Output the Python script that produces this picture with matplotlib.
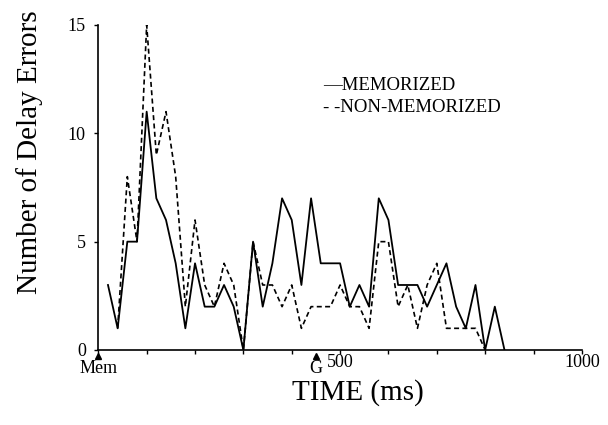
import numpy as np
import matplotlib
matplotlib.use('Agg')
import matplotlib.pyplot as plt

plt.rcParams['font.family'] = ['Liberation Serif', 'DejaVu Sans']

# memorized (solid) and non-memorized (dashed) delay errors, 20 ms bins
mem_t = [20, 40, 60, 80, 100, 120, 140, 160, 180, 200, 220, 240, 260, 280, 300,
         320, 340, 360, 380, 400, 420, 440, 460, 480, 500, 520, 540, 560, 580, 600,
         620, 640, 660, 680, 700, 720, 740, 760, 780, 800, 820, 840]
mem_n = [3, 1, 5, 5, 11, 7, 6, 4, 1, 4, 2, 2, 3, 2, 0,
         5, 2, 4, 7, 6, 3, 7, 4, 4, 4, 2, 3, 2, 7, 6,
         3, 3, 3, 2, 3, 4, 2, 1, 3, 0, 2, 0]

non_t = [40, 60, 80, 100, 120, 140, 160, 180, 200, 220, 240, 260, 280, 300,
         320, 340, 360, 380, 400, 420, 440, 460, 480, 500, 520, 540, 560, 580, 600,
         620, 640, 660, 680, 700, 720, 740, 760, 780, 800]
non_n = [1, 8, 5, 15, 9, 11, 8, 2, 6, 3, 2, 4, 3, 0,
         5, 3, 3, 2, 3, 1, 2, 2, 2, 3, 2, 2, 1, 5, 5,
         2, 3, 1, 3, 4, 1, 1, 1, 1, 0]

yticks = [0, 5, 10, 15]
xticks_major = [500, 1000]
event_t = [0, 450]
event_lab = ['Mem', 'G']

fig = plt.figure(figsize=(6.08, 4.25), dpi=100)
ax = fig.add_axes([0.1617, 0.1765, 0.7953, 0.7647])

ax.plot(mem_t, mem_n, color='black', lw=1.3)
ax.plot(non_t, non_n, color='black', lw=1.2, linestyle=(0, (3, 2)))

ax.set_xlim(0, 1000)
ax.set_ylim(0, 15)
ax.spines['top'].set_visible(False)
ax.spines['right'].set_visible(False)
ax.spines['left'].set_linewidth(1.2)
ax.spines['bottom'].set_linewidth(1.2)

ax.set_yticks(yticks)
ax.set_yticklabels([str(v) for v in yticks], fontsize=13)
ax.set_xticks(xticks_major)
ax.set_xticklabels([str(v) for v in xticks_major], fontsize=13)
ax.set_xticks(np.arange(0, 1001, 100), minor=True)
ax.tick_params(axis='x', which='both', length=3, width=1, pad=0, direction='out')
ax.tick_params(axis='y', length=3, width=1, pad=6)

# event markers under the time axis
ax.plot(event_t, [-0.28] * len(event_t), linestyle='none', marker='^', ms=5,
        color='black', clip_on=False)
for t, lab in zip(event_t, event_lab):
    ax.annotate(lab, xy=(t, 0), xycoords=('data', 'axes fraction'),
                xytext=(0, -7), textcoords='offset points',
                ha='center', va='top', fontsize=13)

fig.text(358 / 608, 1 - 393 / 425, 'TIME (ms)', ha='center', va='center', fontsize=21)
fig.text(30 / 608, 1 - 152 / 425, 'Number of Delay Errors', ha='center', va='center',
         rotation=90, fontsize=21)

# hand-drawn style key
fig.text(323 / 608, 1 - 85 / 425, '—MEMORIZED', ha='left', va='center', fontsize=13.5)
fig.text(323 / 608, 1 - 107 / 425, '- -NON-MEMORIZED', ha='left', va='center', fontsize=13.5)

fig.savefig('out.png', dpi=100)
